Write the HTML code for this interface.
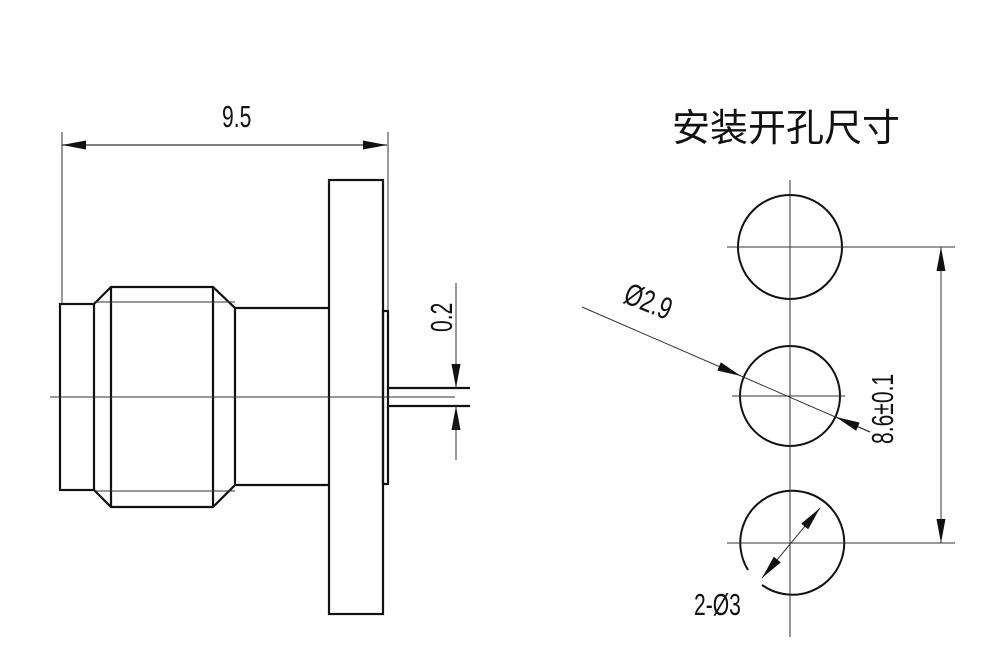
<!DOCTYPE html>
<html><head><meta charset="utf-8"><style>
html,body{margin:0;padding:0;background:#fff}
svg{display:block}
text{font-family:"Liberation Sans","Noto Sans CJK SC",sans-serif;fill:#111}
</style></head><body>
<svg width="1000" height="662" viewBox="0 0 1000 662" xmlns="http://www.w3.org/2000/svg">
<defs>
<marker id="a" markerWidth="24" markerHeight="9" refX="24" refY="4.5" orient="auto-start-reverse" markerUnits="userSpaceOnUse" viewBox="0 0 24 9"><path d="M0,0 L24,4.5 L0,9Z" fill="#111"/></marker>
</defs>
<g stroke="#111" stroke-width="2.2" fill="none">
<rect x="60" y="304" width="34" height="186"/>
<path d="M94 304 L111 287 L213 287 L235 308 L235 485 L213 507 L111 507 L94 490"/>
<line x1="111" y1="287" x2="111" y2="507"/>
<line x1="213" y1="287" x2="213" y2="507"/>
<path d="M235 308 H329 M235 485 H329"/>
<rect x="329" y="180" width="54" height="434"/>
<rect x="383" y="311" width="5" height="173"/>
<path d="M388 388 H470 M388 406 H470"/>
</g>
<g stroke="#333" stroke-width="1" fill="none">
<line x1="50" y1="397" x2="455" y2="397"/>
<line x1="94" y1="302" x2="235" y2="302"/>
<line x1="94" y1="491" x2="235" y2="491"/>
<line x1="62" y1="132" x2="62" y2="304"/>
<line x1="388" y1="132" x2="388" y2="311"/>
<line x1="62" y1="145" x2="387" y2="145" marker-start="url(#a)" marker-end="url(#a)" stroke-width="1.2"/>
<line x1="456" y1="283" x2="456" y2="388" marker-end="url(#a)"/>
<line x1="456" y1="460" x2="456" y2="406" marker-end="url(#a)"/>
</g>
<text transform="translate(222,127) scale(0.68,1)" font-size="31">9.5</text>
<text transform="translate(452,332) rotate(-90) scale(0.68,1)" font-size="31">0.2</text>
<text x="672" y="141" font-size="38">安装开孔尺寸</text>
<g stroke="#111" stroke-width="2" fill="none">
<circle cx="790" cy="247" r="52"/>
<circle cx="790" cy="396" r="50"/>
<path d="M748 570 A52 52 0 1 1 762 585"/>
</g>
<g stroke="#333" stroke-width="1" fill="none">
<line x1="790" y1="180" x2="790" y2="637"/>
<line x1="727" y1="247" x2="955" y2="247"/>
<line x1="732" y1="396" x2="845" y2="396"/>
<line x1="727" y1="543" x2="955" y2="543"/>
<line x1="941" y1="247" x2="941" y2="543" marker-start="url(#a)" marker-end="url(#a)"/>
<line x1="582" y1="307" x2="741" y2="376" marker-end="url(#a)"/>
<line x1="741" y1="376" x2="870" y2="432"/>
<line x1="870" y1="432" x2="836" y2="417" marker-end="url(#a)"/>
<line x1="762" y1="578" x2="820" y2="508" marker-start="url(#a)" marker-end="url(#a)"/>
</g>
<text transform="translate(622,302) rotate(22) scale(0.72,1)" font-size="31">Ø2.9</text>
<text transform="translate(893,444) rotate(-90) scale(0.68,1)" font-size="31">8.6±0.1</text>
<text transform="translate(694,615) scale(0.68,1)" font-size="31">2-Ø3</text>
</svg>
</body></html>
